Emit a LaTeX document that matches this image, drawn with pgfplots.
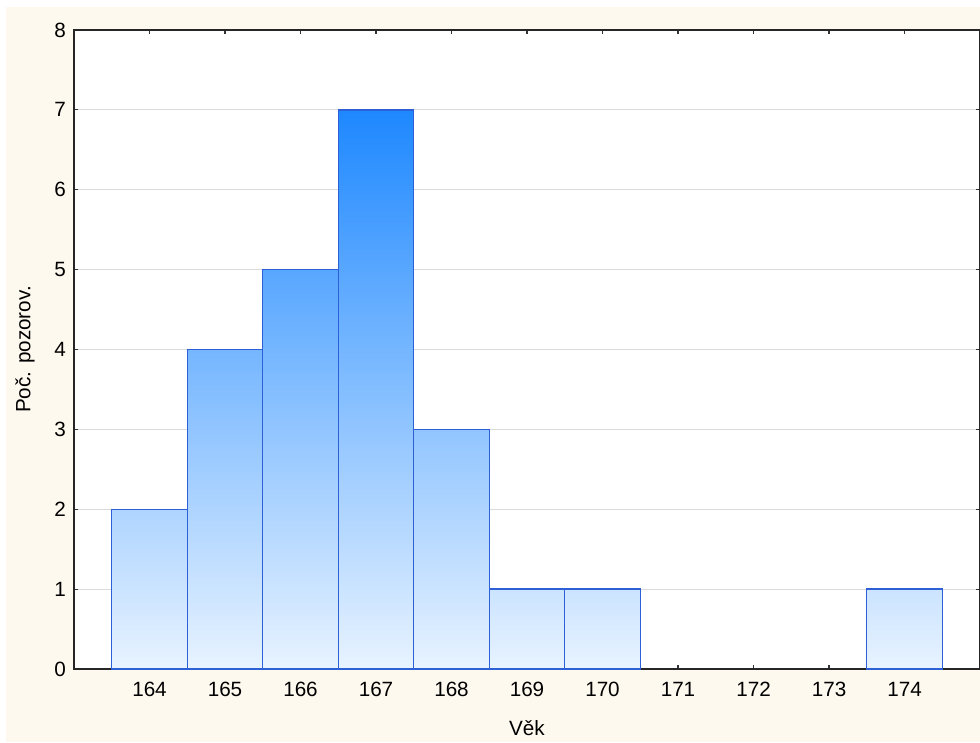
\documentclass[border=0pt]{standalone}
\usepackage{fontspec}
\setmainfont{Liberation Sans}
\usepackage{pgfplots}
\pgfplotsset{compat=1.18}
\definecolor{bgc}{RGB}{254,249,238}
\definecolor{lowc}{RGB}{232,243,255}
\definecolor{highc}{RGB}{30,136,255}
\definecolor{edgec}{RGB}{45,95,215}
\definecolor{gridc}{RGB}{218,218,218}
\begin{document}
\begin{tikzpicture}[x=0.75pt,y=0.75pt]
\path[use as bounding box] (-74,-73) rectangle (906,669);
\fill[bgc] (-68,-73) rectangle (906,662);
\begin{axis}[
  at={(0pt,0pt)}, anchor=south west,
  scale only axis, width=679.5pt, height=479.25pt,
  xmin=163, xmax=175, ymin=0, ymax=8,
  xtick={164,...,174}, ytick={0,...,8},
  tick align=inside, major tick length=3pt,
  tick style={black!80, line width=0.8pt},
  axis line style={black!85, line width=0.9pt},
  axis background/.style={fill=white},
  ymajorgrids, grid style={gridc, line width=0.8pt},
  /pgf/number format/assume math mode=true,
  /pgf/number format/1000 sep={},
  tick label style={font=\fontsize{15.5}{18}\selectfont, black},
  label style={font=\fontsize{15.5}{18}\selectfont, black},
  yticklabel style={xshift=-2.5pt},
  xticklabel style={yshift=-6.5pt},
  xlabel style={yshift=-11pt},
  ylabel style={yshift=8pt},
  xlabel={Věk}, ylabel={Poč. pozorov.},
  every axis plot/.append style={ybar, bar width=1, bar shift=0pt, draw=edgec, line width=1.1pt},
]
\addplot[bottom color=lowc, top color=highc!28.6!lowc] coordinates {(164,2)};
\addplot[bottom color=lowc, top color=highc!57.1!lowc] coordinates {(165,4)};
\addplot[bottom color=lowc, top color=highc!71.4!lowc] coordinates {(166,5)};
\addplot[bottom color=lowc, top color=highc!100!lowc] coordinates {(167,7)};
\addplot[bottom color=lowc, top color=highc!42.9!lowc] coordinates {(168,3)};
\addplot[bottom color=lowc, top color=highc!14.3!lowc] coordinates {(169,1)};
\addplot[bottom color=lowc, top color=highc!14.3!lowc] coordinates {(170,1)};
\addplot[bottom color=lowc, top color=highc!14.3!lowc] coordinates {(174,1)};
\end{axis}
\end{tikzpicture}
\end{document}
